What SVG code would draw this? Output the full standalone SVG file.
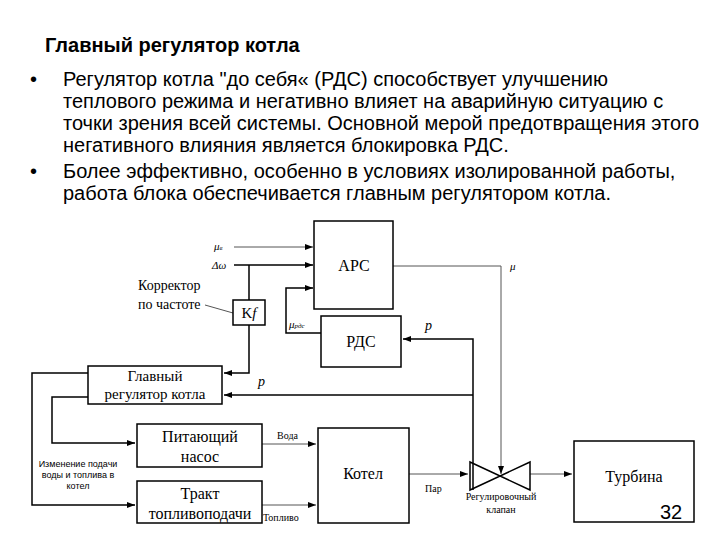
<svg xmlns="http://www.w3.org/2000/svg" width="720" height="540" viewBox="0 0 720 540">
<defs>
<marker id="a" markerWidth="8" markerHeight="6" refX="8" refY="3" orient="auto" markerUnits="userSpaceOnUse"><path d="M0,0L8,3L0,6z" fill="#000"/></marker>
<style>
.t{font-family:"Liberation Sans",Arial,sans-serif;font-size:20px;fill:#000}
.s{font-family:"Liberation Serif","Times New Roman",serif;fill:#000}
.b{fill:#fff;stroke:#000;stroke-width:1.5}
.l{fill:none;stroke:#000;stroke-width:1.5}
.g{fill:none;stroke:#555;stroke-width:1}
</style>
</defs>
<rect width="720" height="540" fill="#fff"/>
<text x="45" y="52" class="t" font-weight="bold" font-size="21">Главный регулятор котла</text>
<text class="t"><tspan x="30" y="86">•</tspan><tspan x="63" y="86">Регулятор котла "до себя« (РДС) способствует улучшению</tspan><tspan x="63" y="108">теплового режима и негативно влияет на аварийную ситуацию с</tspan><tspan x="63" y="130">точки зрения всей системы. Основной мерой предотвращения этого</tspan><tspan x="63" y="152">негативного влияния является блокировка РДС.</tspan><tspan x="30" y="178">•</tspan><tspan x="63" y="178">Более эффективно, особенно в условиях изолированной работы,</tspan><tspan x="63" y="200">работа блока обеспечивается главным регулятором котла.</tspan></text>
<g id="connectors">
<path class="g" d="M234,247H313" marker-end="url(#a)"/>
<path class="l" d="M234,265H313" marker-end="url(#a)"/>
<path class="l" d="M249,265V300M249,325V373H224" marker-end="url(#a)"/>
<path class="l" d="M321,333H286V288H313" marker-end="url(#a)"/>
<path class="g" d="M393,266H501V474" marker-end="url(#a)"/>
<path class="l" d="M473,490V339H403" marker-end="url(#a)"/>
<path class="l" d="M473,395H224" marker-end="url(#a)"/>
<path class="l" d="M88,373H32V505H135" marker-end="url(#a)"/>
<path class="l" d="M88,397H52V443H135" marker-end="url(#a)"/>
<path class="g" d="M262,444H316" marker-end="url(#a)"/>
<path class="g" d="M262,505H316" marker-end="url(#a)"/>
<path class="g" d="M409,474H468" marker-end="url(#a)"/>
<path class="g" d="M530,474H572" marker-end="url(#a)"/>
<path class="g" d="M205,305L233,313"/>
</g>
<g class="s" font-style="italic" font-size="11"><text x="214" y="250">μ<tspan font-size="7">в</tspan></text><text x="212" y="269">Δω</text><text x="289" y="328">μ<tspan font-size="7">рдс</tspan></text><text x="510" y="270">μ</text><text x="425" y="330" font-size="14">p</text><text x="258" y="386" font-size="14">p</text></g>
<g class="s" font-size="14"><text x="138" y="290">Корректор</text><text x="138" y="309">по частоте</text></g>
<g id="kf"><rect class="b" x="233" y="300" width="32" height="25"/><text x="249" y="318" class="s" font-size="15" text-anchor="middle">K<tspan font-style="italic">f</tspan></text></g>
<g id="arc"><rect class="b" x="314" y="221" width="79" height="88"/><text x="354" y="271" class="s" font-size="16" text-anchor="middle">АРС</text></g>
<g id="rds"><rect class="b" x="321" y="316" width="80" height="51"/><text x="361" y="347" class="s" font-size="16" text-anchor="middle">РДС</text></g>
<g id="main"><rect class="b" x="88" y="366" width="134" height="38"/><text x="155" y="381" class="s" font-size="15" text-anchor="middle">Главный</text><text x="155" y="399" class="s" font-size="15" text-anchor="middle">регулятор котла</text></g>
<g id="pump"><rect class="b" x="137" y="424" width="125" height="43"/><text x="200" y="442" class="s" font-size="16" text-anchor="middle">Питающий</text><text x="200" y="462" class="s" font-size="16" text-anchor="middle">насос</text></g>
<g id="fuel"><rect class="b" x="137" y="481" width="125" height="42"/><text x="200" y="499" class="s" font-size="16" text-anchor="middle">Тракт</text><text x="200" y="519" class="s" font-size="16" text-anchor="middle">топливоподачи</text></g>
<g id="boiler"><rect class="b" x="318" y="428" width="91" height="95"/><text x="363" y="479" class="s" font-size="16" text-anchor="middle">Котел</text></g>
<g id="valve"><path class="l" d="M470,462L530,490V462L470,490Z"/><text x="501" y="500" class="s" font-size="10" text-anchor="middle">Регулировочный</text><text x="501" y="513" class="s" font-size="10" text-anchor="middle">клапан</text></g>
<g id="turbine"><rect class="b" x="574" y="441" width="120" height="81"/><text x="634" y="482" class="s" font-size="16" text-anchor="middle">Турбина</text></g>
<g class="s" font-size="10"><text x="277" y="439">Вода</text><text x="263" y="521">Топливо</text><text x="425" y="492">Пар</text></g>
<g font-family="Liberation Sans,Arial,sans-serif" font-size="9" text-anchor="middle"><text x="78" y="467">Изменение подачи</text><text x="78" y="478">воды и топлива в</text><text x="78" y="489">котел</text></g>
<text x="660" y="519" class="t" font-size="14">32</text>
</svg>
